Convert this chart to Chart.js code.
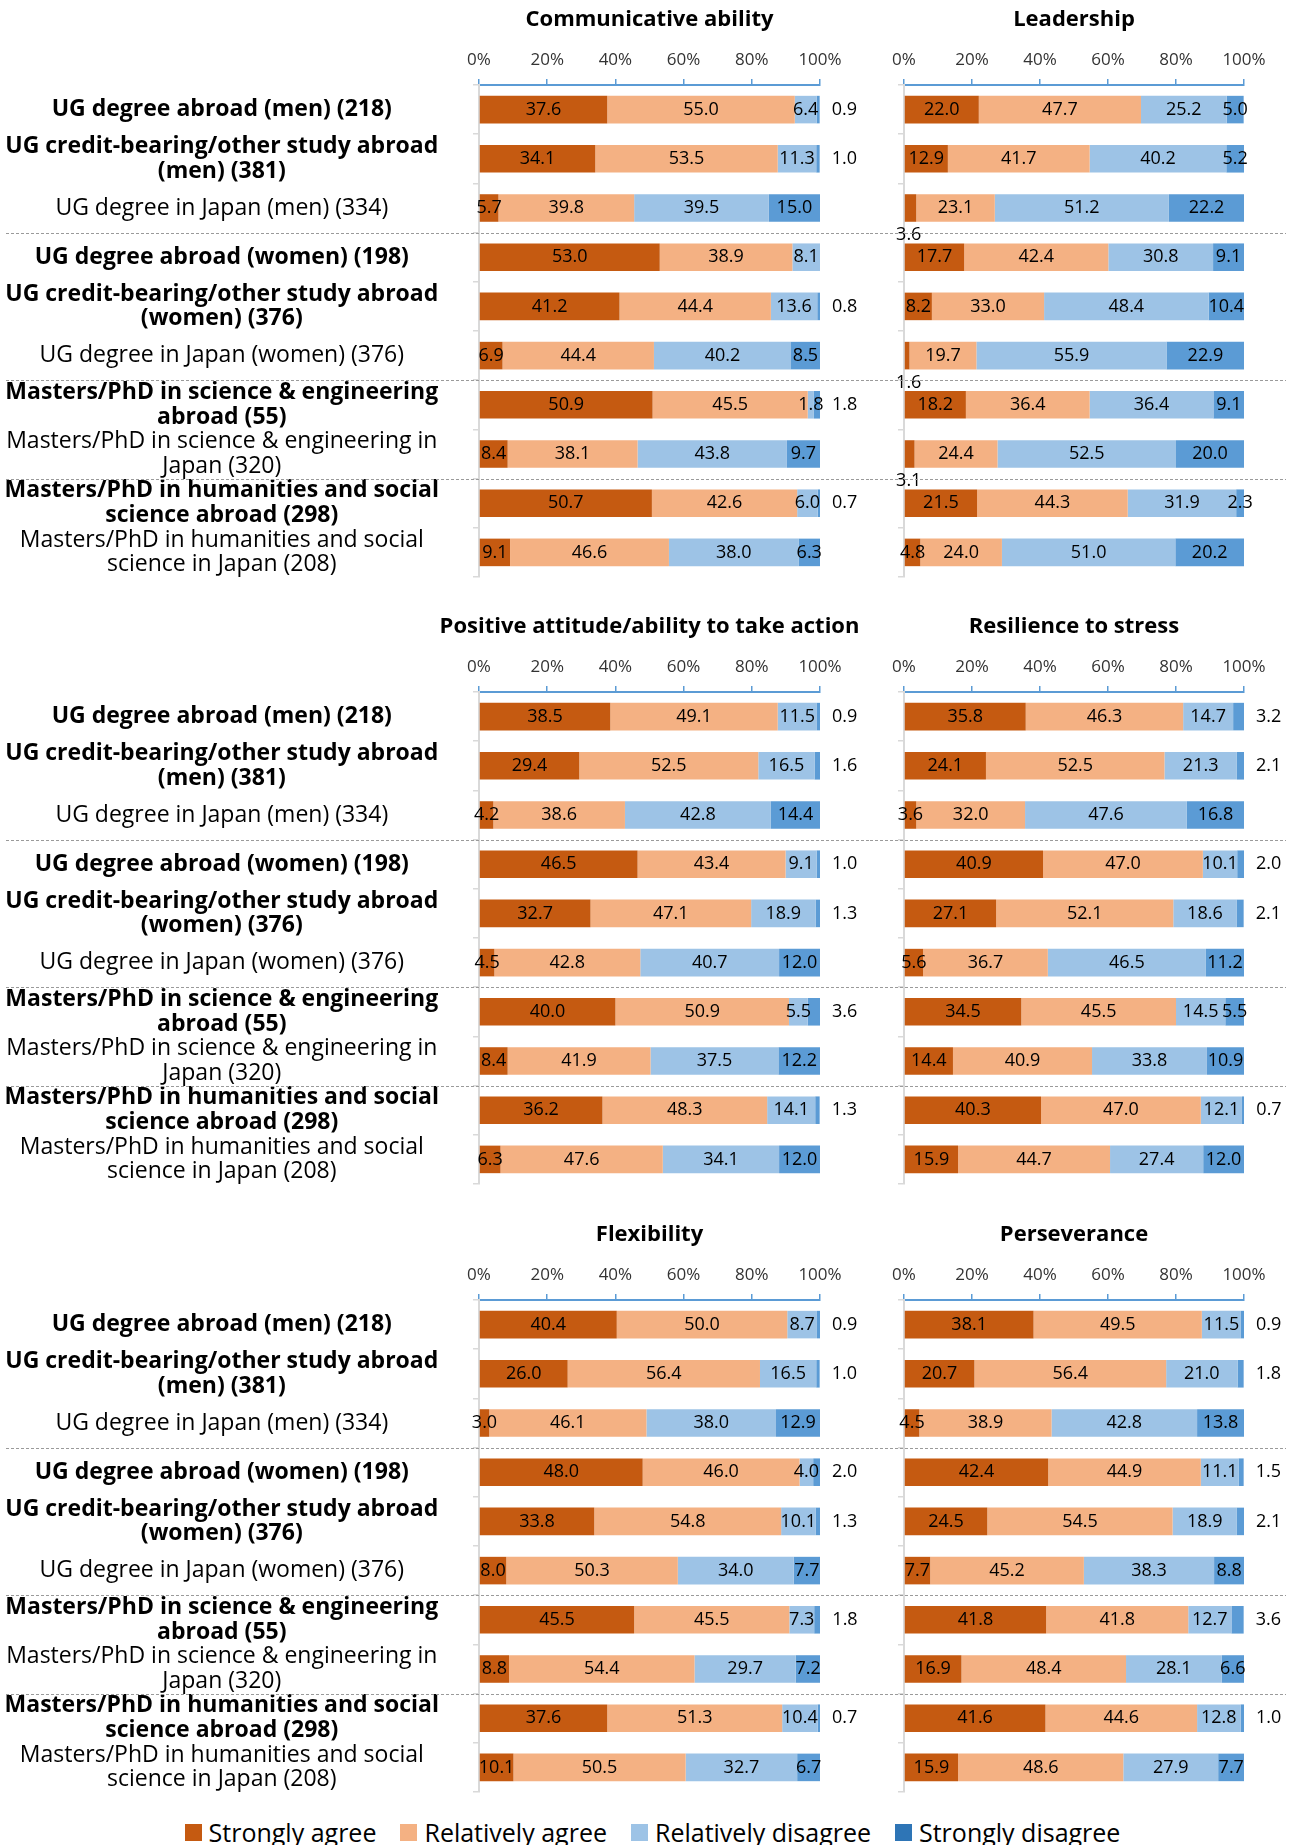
<!DOCTYPE html>
<html lang="en">
<head>
  <meta charset="UTF-8">
  <title>Self-assessed abilities by study background</title>
  <script src="https://cdn.jsdelivr.net/npm/chart.js"></script>
  <style>
    body { margin: 0; background: #fff; }
    #wrap { position: relative; width: 1295px; height: 1845px; overflow: hidden; }
    #wrap canvas { position: absolute; }
    #legend { position: absolute; left: 0; width: 1305px; top: 1815px; display: flex; justify-content: center;
              font-family: "Open Sans", sans-serif; font-size: 25px; color: #000; }
    #legend span.item { display: flex; align-items: center; margin: 0 12px; }
    #legend span.box { width: 17px; height: 17px; margin-right: 7px; display: inline-block; }
  </style>
</head>
<body>
  <div id="wrap">
    <div id="legend"></div>
  </div>

  <script>
    const categories = [
      "UG degree abroad (men) (218)",
      ["UG credit-bearing/other study abroad", "(men) (381)"],
      "UG degree in Japan (men) (334)",
      "UG degree abroad (women) (198)",
      ["UG credit-bearing/other study abroad", "(women) (376)"],
      "UG degree in Japan (women) (376)",
      ["Masters/PhD in science & engineering", "abroad (55)"],
      ["Masters/PhD in science & engineering in", "Japan (320)"],
      ["Masters/PhD in humanities and social", "science abroad (298)"],
      ["Masters/PhD in humanities and social", "science in Japan (208)"]
    ];
    const boldRows = [0, 1, 3, 4, 6, 8];
    const groupStarts = [3, 6, 8];
    const seriesNames = ["Strongly agree", "Relatively agree", "Relatively disagree", "Strongly disagree"];
    const xTicks = [0, 20, 40, 60, 80, 100];

    // Communicative ability
    const commSA = [37.6, 34.1, 5.7, 53.0, 41.2, 6.9, 50.9, 8.4, 50.7, 9.1];
    const commRA = [55.0, 53.5, 39.8, 38.9, 44.4, 44.4, 45.5, 38.1, 42.6, 46.6];
    const commRD = [6.4, 11.3, 39.5, 8.1, 13.6, 40.2, 1.8, 43.8, 6.0, 38.0];
    const commSD = [0.9, 1.0, 15.0, 0, 0.8, 8.5, 1.8, 9.7, 0.7, 6.3];

    // Leadership
    const leadSA = [22.0, 12.9, 3.6, 17.7, 8.2, 1.6, 18.2, 3.1, 21.5, 4.8];
    const leadRA = [47.7, 41.7, 23.1, 42.4, 33.0, 19.7, 36.4, 24.4, 44.3, 24.0];
    const leadRD = [25.2, 40.2, 51.2, 30.8, 48.4, 55.9, 36.4, 52.5, 31.9, 51.0];
    const leadSD = [5.0, 5.2, 22.2, 9.1, 10.4, 22.9, 9.1, 20.0, 2.3, 20.2];

    // Positive attitude/ability to take action
    const posSA = [38.5, 29.4, 4.2, 46.5, 32.7, 4.5, 40.0, 8.4, 36.2, 6.3];
    const posRA = [49.1, 52.5, 38.6, 43.4, 47.1, 42.8, 50.9, 41.9, 48.3, 47.6];
    const posRD = [11.5, 16.5, 42.8, 9.1, 18.9, 40.7, 5.5, 37.5, 14.1, 34.1];
    const posSD = [0.9, 1.6, 14.4, 1.0, 1.3, 12.0, 3.6, 12.2, 1.3, 12.0];

    // Resilience to stress
    const resSA = [35.8, 24.1, 3.6, 40.9, 27.1, 5.6, 34.5, 14.4, 40.3, 15.9];
    const resRA = [46.3, 52.5, 32.0, 47.0, 52.1, 36.7, 45.5, 40.9, 47.0, 44.7];
    const resRD = [14.7, 21.3, 47.6, 10.1, 18.6, 46.5, 14.5, 33.8, 12.1, 27.4];
    const resSD = [3.2, 2.1, 16.8, 2.0, 2.1, 11.2, 5.5, 10.9, 0.7, 12.0];

    // Flexibility
    const flexSA = [40.4, 26.0, 3.0, 48.0, 33.8, 8.0, 45.5, 8.8, 37.6, 10.1];
    const flexRA = [50.0, 56.4, 46.1, 46.0, 54.8, 50.3, 45.5, 54.4, 51.3, 50.5];
    const flexRD = [8.7, 16.5, 38.0, 4.0, 10.1, 34.0, 7.3, 29.7, 10.4, 32.7];
    const flexSD = [0.9, 1.0, 12.9, 2.0, 1.3, 7.7, 1.8, 7.2, 0.7, 6.7];

    // Perseverance
    const persSA = [38.1, 20.7, 4.5, 42.4, 24.5, 7.7, 41.8, 16.9, 41.6, 15.9];
    const persRA = [49.5, 56.4, 38.9, 44.9, 54.5, 45.2, 41.8, 48.4, 44.6, 48.6];
    const persRD = [11.5, 21.0, 42.8, 11.1, 18.9, 38.3, 12.7, 28.1, 12.8, 27.9];
    const persSD = [0.9, 1.8, 13.8, 1.5, 2.1, 8.8, 3.6, 6.6, 1.0, 7.7];

    const barColors = ["#C55A11", "#F4B183", "#9DC3E6", "#5B9BD5"];
    const legendColors = ["#C55A11", "#F4B183", "#9DC3E6", "#2E75B6"];
    const FONT = '"Open Sans", sans-serif';
    const rowTops = [0, 607, 1215];

    const panels = [
      { title: "Communicative ability", row: 0, col: 0, data: [commSA, commRA, commRD, commSD], outsideRight: true },
      { title: "Leadership", row: 0, col: 1, data: [leadSA, leadRA, leadRD, leadSD], smallBelow: true },
      { title: "Positive attitude/ability to take action", row: 1, col: 0, data: [posSA, posRA, posRD, posSD], outsideRight: true },
      { title: "Resilience to stress", row: 1, col: 1, data: [resSA, resRA, resRD, resSD], outsideRight: true },
      { title: "Flexibility", row: 2, col: 0, data: [flexSA, flexRA, flexRD, flexSD], outsideRight: true },
      { title: "Perseverance", row: 2, col: 1, data: [persSA, persRA, persRD, persSD], outsideRight: true }
    ];

    // panel title centred over the plot area, allowed to run wider than it
    const panelTitle = {
      id: "panelTitle",
      afterDraw(chart, args, opts) {
        const ctx = chart.ctx;
        const a = chart.chartArea;
        ctx.save();
        ctx.font = "bold 22px " + FONT;
        ctx.fillStyle = "#000";
        ctx.textAlign = "center";
        ctx.textBaseline = "middle";
        ctx.fillText(opts.text, (a.left + a.right) / 2, 20);
        ctx.restore();
      }
    };

    // dashed lines between the groups of rows
    const separators = {
      id: "separators",
      afterDraw(chart, args, opts) {
        const y = chart.scales.y;
        const ctx = chart.ctx;
        ctx.save();
        ctx.strokeStyle = "#9a9a9a";
        ctx.lineWidth = 1;
        ctx.setLineDash([3, 2]);
        groupStarts.forEach(g => {
          const py = Math.round((y.getPixelForValue(g - 1) + y.getPixelForValue(g)) / 2) + 0.5;
          ctx.beginPath();
          ctx.moveTo(opts.x0, py);
          ctx.lineTo(opts.x1, py);
          ctx.stroke();
        });
        ctx.restore();
      }
    };

    // numbers on the bars
    const valueLabels = {
      id: "valueLabels",
      afterDatasetsDraw(chart, args, opts) {
        const ctx = chart.ctx;
        ctx.save();
        ctx.font = "18px " + FONT;
        ctx.fillStyle = "#000";
        ctx.textBaseline = "middle";
        const last = chart.data.datasets.length - 1;
        chart.data.datasets.forEach((ds, di) => {
          chart.getDatasetMeta(di).data.forEach((bar, i) => {
            const v = ds.data[i];
            if (!v) return;
            let x = (bar.x + bar.base) / 2, y = bar.y;
            ctx.textAlign = "center";
            if (di === last && v < 4 && opts.outsideRight) {
              x = bar.x + 12;
              ctx.textAlign = "left";
            } else if (di === 0 && v < 4 && opts.smallBelow) {
              x = bar.base + 4;
              y = bar.y + 27;
            }
            ctx.fillText(v.toFixed(1), x, y);
          });
        });
        ctx.restore();
      }
    };

    const wrap = document.getElementById("wrap");

    panels.forEach(p => {
      const left = p.col === 0;
      const W = left ? 870 : 425, H = 590;
      const canvas = document.createElement("canvas");
      canvas.width = W;
      canvas.height = H;
      canvas.style.left = (left ? 0 : 870) + "px";
      canvas.style.top = rowTops[p.row] + "px";
      canvas.style.width = W + "px";
      canvas.style.height = H + "px";
      wrap.appendChild(canvas);

      new Chart(canvas.getContext("2d"), {
        type: "bar",
        data: {
          labels: categories,
          datasets: p.data.map((d, i) => ({
            label: seriesNames[i],
            data: d,
            backgroundColor: barColors[i],
            barPercentage: 0.56,
            categoryPercentage: 1
          }))
        },
        options: {
          indexAxis: "y",
          responsive: false,
          animation: false,
          layout: { padding: { left: left ? 0 : 34, right: left ? 50 : 51, top: 38, bottom: 13 } },
          plugins: {
            legend: { display: false },
            tooltip: { enabled: false },
            title: { display: false },
            panelTitle: { text: p.title },
            separators: { x0: left ? 6 : 0, x1: left ? W : 416 },
            valueLabels: { outsideRight: !!p.outsideRight, smallBelow: !!p.smallBelow }
          },
          scales: {
            x: {
              position: "top",
              stacked: true,
              min: 0,
              max: 100,
              afterBuildTicks: s => { s.ticks = xTicks.map(v => ({ value: v })); },
              afterFit: s => { s.height = 47; },
              ticks: {
                callback: v => v + "%",
                font: { family: FONT, size: 17 },
                color: "#333",
                padding: 9,
                maxRotation: 0
              },
              grid: { drawOnChartArea: false, drawTicks: true, tickLength: 6, color: "#5B9BD5", lineWidth: 1.5 },
              border: { color: "#5B9BD5", width: 2 }
            },
            y: {
              stacked: true,
              afterFit: s => {
                s.width = left ? 479 : 0;
                s.paddingTop = 0;
                s.paddingBottom = 0;
              },
              ticks: {
                display: left,
                autoSkip: false,
                crossAlign: "center",
                padding: 34,
                color: "#000",
                font: ctx => ({
                  family: FONT,
                  size: 23,
                  lineHeight: 1.08,
                  weight: boldRows.includes(ctx.index) ? "bold" : "normal"
                })
              },
              grid: { offset: true, drawOnChartArea: false, tickLength: 6, color: "#D9D9D9", lineWidth: 1.5 },
              border: { color: "#D9D9D9", width: 2 }
            }
          }
        },
        plugins: [panelTitle, separators, valueLabels]
      });
    });

    const legend = document.getElementById("legend");
    seriesNames.forEach((name, i) => {
      const item = document.createElement("span");
      item.className = "item";
      const box = document.createElement("span");
      box.className = "box";
      box.style.background = legendColors[i];
      item.appendChild(box);
      item.appendChild(document.createTextNode(name));
      legend.appendChild(item);
    });
  </script>
</body>
</html>
